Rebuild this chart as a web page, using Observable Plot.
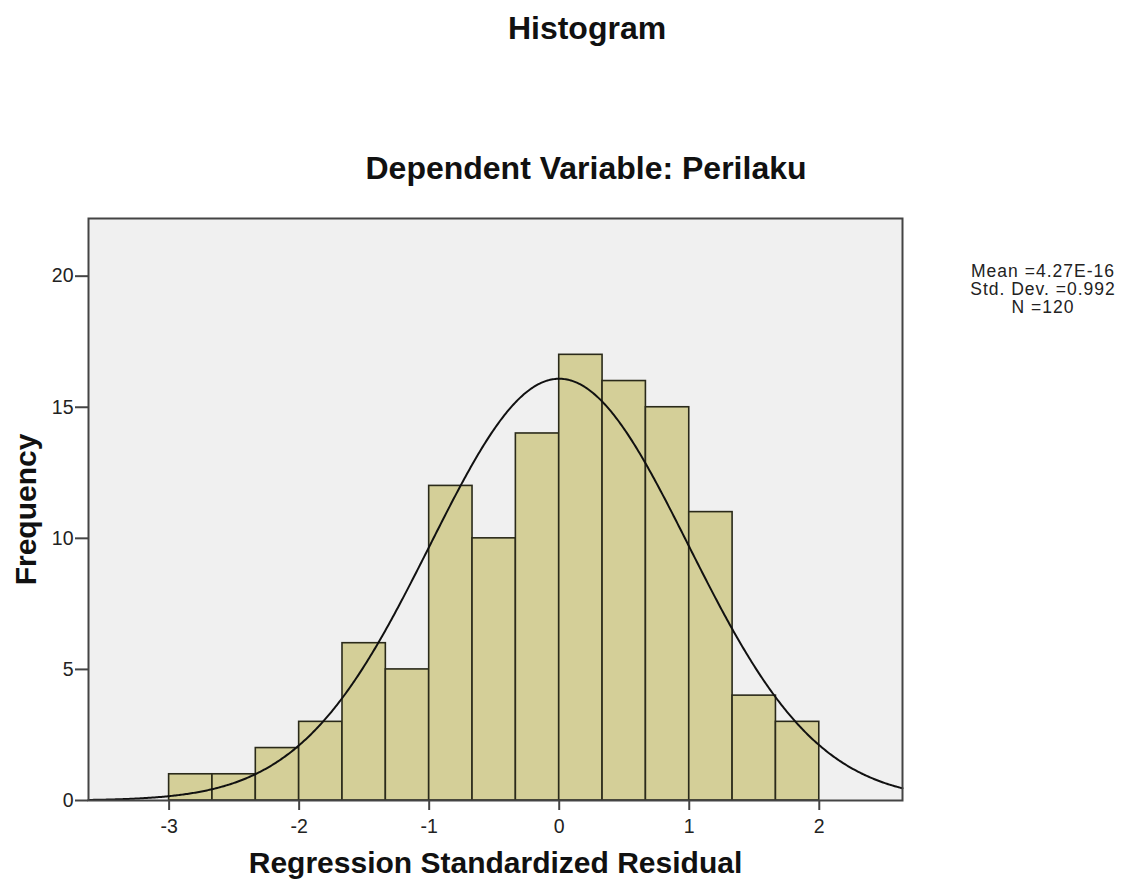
<!DOCTYPE html>
<html>
<head>
<meta charset="utf-8">
<script src="https://cdn.jsdelivr.net/npm/d3@7"></script>
<script src="https://cdn.jsdelivr.net/npm/@observablehq/plot@0.6"></script>
<style>
  body { margin: 0; background: #fff; font-family: "Liberation Sans", Arial, sans-serif; }
  #wrap { position: relative; width: 1137px; height: 890px; overflow: hidden; }
  .title { position: absolute; font-weight: bold; font-size: 32px; line-height: 36px; color: #111; white-space: nowrap; transform: translateX(-50%); }
  #stats { position: absolute; left: 1043px; top: 262px; transform: translateX(-50%); text-align: center; font-size: 17.5px; letter-spacing: 1px; line-height: 18px; color: #222; white-space: nowrap; }
  #chart { position: absolute; left: 0; top: 200px; }
  #chart svg { font-family: "Liberation Sans", Arial, sans-serif; }
  #chart [aria-label="x-axis tick label"] text, #chart [aria-label="y-axis tick label"] text { font-size: 19.5px; fill: #222; }
  #chart [aria-label="x-axis label"] text, #chart [aria-label="y-axis label"] text { font-size: 30px; font-weight: bold; fill: #111; }
</style>
</head>
<body>
<div id="wrap">
  <div class="title" style="left:587px; top:10px;">Histogram</div>
  <div class="title" style="left:586px; top:150px;">Dependent Variable: Perilaku</div>
  <div id="stats"></div>
  <div id="chart"></div>
</div>
<script>
// Bin lower edges (width 1/3) and counts
const binStarts = [-3, -8/3, -7/3, -2, -5/3, -4/3, -1, -2/3, -1/3, 0, 1/3, 2/3, 1, 4/3, 5/3];
const counts    = [ 1,    1,    2,  3,    6,    5, 12,   10,   14, 17,  16,  15, 11,   4,   3];
const binWidth = 1/3;
// Reported statistics
const statLabels = ["Mean =4.27E-16", "Std. Dev. =0.992", "N =120"];
const statMean = 4.27e-16, statSD = 0.992, statN = 120;
const xTicks = [-3, -2, -1, 0, 1, 2];
const yTicks = [0, 5, 10, 15, 20];

const bins = binStarts.map((s, i) => ({x1: s, x2: s + binWidth, count: counts[i]}));

const xDomain = [-3.62, 2.64];
// Fitted normal curve defined by the reported mean, SD and N
const curve = d3.range(xDomain[0], xDomain[1] + 0.001, 0.01).map(x => ({
  x,
  y: statN * binWidth * Math.exp(-0.5 * ((x - statMean) / statSD) ** 2) / (statSD * Math.sqrt(2 * Math.PI))
}));

document.getElementById("stats").innerHTML = statLabels.join("<br>");

const chart = Plot.plot({
  width: 1137,
  height: 690,
  marginLeft: 88,
  marginRight: 235,
  marginTop: 18,
  marginBottom: 90,
  x: {domain: xDomain},
  y: {domain: [0, 22.2]},
  marks: [
    Plot.frame({fill: "#f0f0f0"}),
    Plot.rectY(bins, {x1: "x1", x2: "x2", y: "count", fill: "#d4cf98", stroke: "#2a2a1a", strokeWidth: 1.6}),
    Plot.line(curve, {x: "x", y: "y", stroke: "#111", strokeWidth: 2, curve: "linear"}),
    Plot.frame({stroke: "#444", strokeWidth: 2}),
    Plot.axisX({ticks: xTicks, tickSize: 10, tickPadding: 9, tickFormat: d => String(d), stroke: "#444", strokeWidth: 2,
      label: "Regression Standardized Residual", labelAnchor: "center", labelArrow: "none", labelOffset: 72}),
    Plot.axisY({ticks: yTicks, tickSize: 13, tickPadding: 2, tickFormat: d => String(d), stroke: "#444", strokeWidth: 2,
      label: "Frequency", labelAnchor: "center", labelArrow: "none", labelOffset: 74})
  ]
});
document.getElementById("chart").appendChild(chart);
</script>
</body>
</html>
